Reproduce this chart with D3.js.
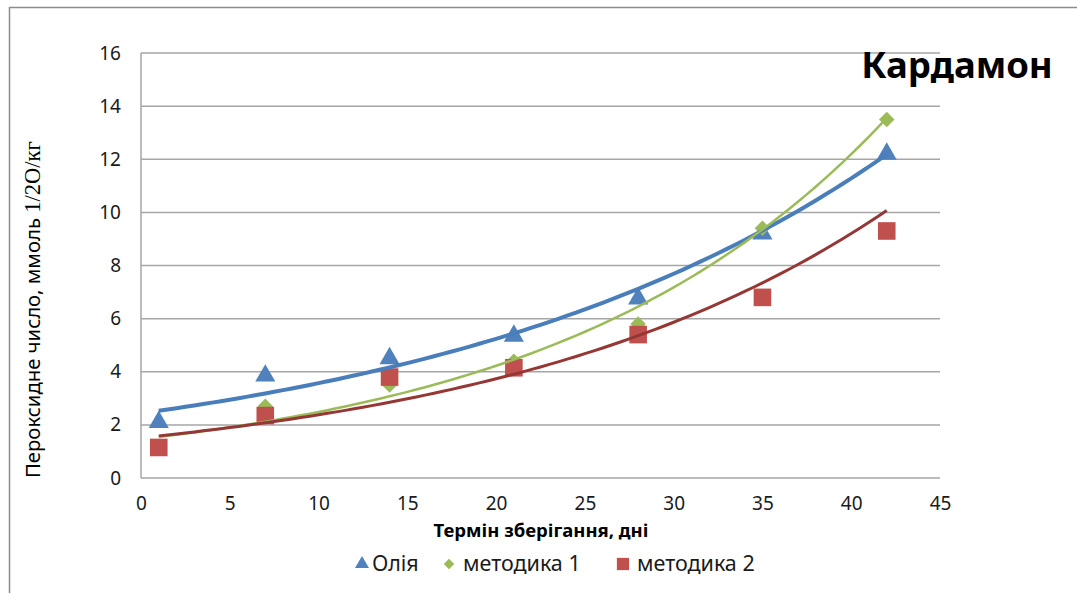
<!DOCTYPE html>
<html><head><meta charset="utf-8">
<script src="https://cdn.jsdelivr.net/npm/d3@7"></script>
<style>body{margin:0;background:#fff}svg{display:block}</style>
</head><body>
<svg id="c" width="1077" height="593"></svg>
<script>
const days = [1, 7, 14, 21, 28, 35, 42];
const oliya = [2.1, 3.85, 4.5, 5.35, 6.75, 9.2, 12.2];
const metodyka1 = [1.2, 2.7, 3.5, 4.4, 5.8, 9.4, 13.5];
const metodyka2 = [1.15, 2.35, 3.8, 4.15, 5.4, 6.8, 9.3];
const seriesNames = ["Олія", "методика 1", "методика 2"];
const xTicks = [0, 5, 10, 15, 20, 25, 30, 35, 40, 45];
const yTicks = [0, 2, 4, 6, 8, 10, 12, 14, 16];
const title = "Кардамон";
const xTitle = "Термін зберігання, дні";

const FONT = "'Noto Sans', 'Open Sans', sans-serif";
const svg = d3.select("#c");
const x = d3.scaleLinear().domain([0, 45]).range([141, 940]);
const y = d3.scaleLinear().domain([0, 16]).range([478, 53]);

// frame
svg.append("line").attr("x1", 9).attr("x2", 1077).attr("y1", 7.5).attr("y2", 7.5).attr("stroke", "#8c8c8c").attr("stroke-width", 1.5);
svg.append("line").attr("x1", 9.5).attr("x2", 9.5).attr("y1", 7).attr("y2", 593).attr("stroke", "#8c8c8c").attr("stroke-width", 1.5);

// gridlines
svg.append("g").selectAll("line").data(yTicks).join("line")
  .attr("x1", x(0)).attr("x2", x(45)).attr("y1", d => y(d)).attr("y2", d => y(d))
  .attr("stroke", "#a6a6a6").attr("stroke-width", 1.5);
svg.append("line").attr("x1", x(0)).attr("x2", x(0)).attr("y1", y(16)).attr("y2", y(0))
  .attr("stroke", "#a6a6a6").attr("stroke-width", 1.5);

// axes labels via d3 axes
const yAxis = svg.append("g").attr("transform", `translate(${x(0)},0)`)
  .call(d3.axisLeft(y).tickValues(yTicks).tickSize(0).tickPadding(20));
yAxis.select(".domain").remove();
yAxis.selectAll("text").attr("font-family", FONT).attr("font-size", 19).attr("fill", "#1a1a1a");
const xAxis = svg.append("g").attr("transform", `translate(0,${y(0)})`)
  .call(d3.axisBottom(x).tickValues(xTicks).tickSize(0).tickPadding(19));
xAxis.select(".domain").remove();
xAxis.selectAll("text").attr("font-family", FONT).attr("font-size", 19).attr("fill", "#1a1a1a");

// titles
svg.append("text").attr("x", 957).attr("y", 78).attr("text-anchor", "middle")
  .attr("font-family", FONT).attr("font-weight", "bold").attr("font-size", 36.5).attr("fill", "#000").text(title);
svg.append("text").attr("x", 541).attr("y", 537).attr("text-anchor", "middle")
  .attr("font-family", FONT).attr("font-weight", "bold").attr("font-size", 18.5).attr("fill", "#000").text(xTitle);
const yt = svg.append("text").attr("transform", "translate(40,478) rotate(-90)").attr("text-anchor", "start")
  .attr("font-size", 20.3).attr("fill", "#000");
yt.append("tspan").attr("font-family", FONT).text("Пероксидне число, ммоль ");
yt.append("tspan").attr("font-family", "'Liberation Serif', serif").attr("font-size", 22.5).text("1/2О/кг");

const trendColors = ["#4a7ebb", "#9bbb59", "#953735"];
const trendWidths = [4, 2.5, 3];
const allSeries = [oliya, metodyka1, metodyka2];
const shapes = [d3.symbolTriangle, d3.symbolSquare, d3.symbolSquare];
const rot = [0, 45, 0];
const fills = ["#4f81bd", "#9bbb59", "#c0504d"];
const sizes = [175, 120, 310];

// markers
allSeries.forEach((s, i) => {
  svg.append("g").selectAll("path").data(s).join("path")
    .attr("d", d3.symbol().type(shapes[i]).size(sizes[i]))
    .attr("transform", (d, j) => `translate(${x(days[j])},${y(d)}) rotate(${rot[i]})`)
    .attr("fill", fills[i]);
});

// exponential trendlines (least squares on ln y, like Excel)
function expFit(xs, ys) {
  const ly = ys.map(Math.log);
  const mx = d3.mean(xs), my = d3.mean(ly);
  let sxy = 0, sxx = 0;
  xs.forEach((xv, k) => { sxy += (xv - mx) * (ly[k] - my); sxx += (xv - mx) ** 2; });
  const b = sxy / sxx, a = Math.exp(my - b * mx);
  return xv => a * Math.exp(b * xv);
}
allSeries.forEach((s, i) => {
  const f = expFit(days, s);
  const pts = d3.range(days[0], days[days.length - 1] + 0.01, 0.5).map(t => [t, f(t)]);
  svg.append("path").datum(pts)
    .attr("d", d3.line().x(d => x(d[0])).y(d => y(d[1])))
    .attr("fill", "none").attr("stroke", trendColors[i]).attr("stroke-width", trendWidths[i]);
});

// legend
const legend = [{x: 362, tx: 372}, {x: 449, tx: 463}, {x: 623, tx: 637}];
legend.forEach((l, i) => {
  svg.append("path").attr("d", d3.symbol().type(shapes[i]).size([85, 55, 150][i]))
    .attr("transform", `translate(${l.x},${564}) rotate(${rot[i]})`).attr("fill", fills[i]);
  svg.append("text").attr("x", l.tx).attr("y", 571).attr("font-family", FONT).attr("font-size", 21.5)
    .attr("fill", "#1a1a1a").text(seriesNames[i]);
});
</script>
</body></html>
